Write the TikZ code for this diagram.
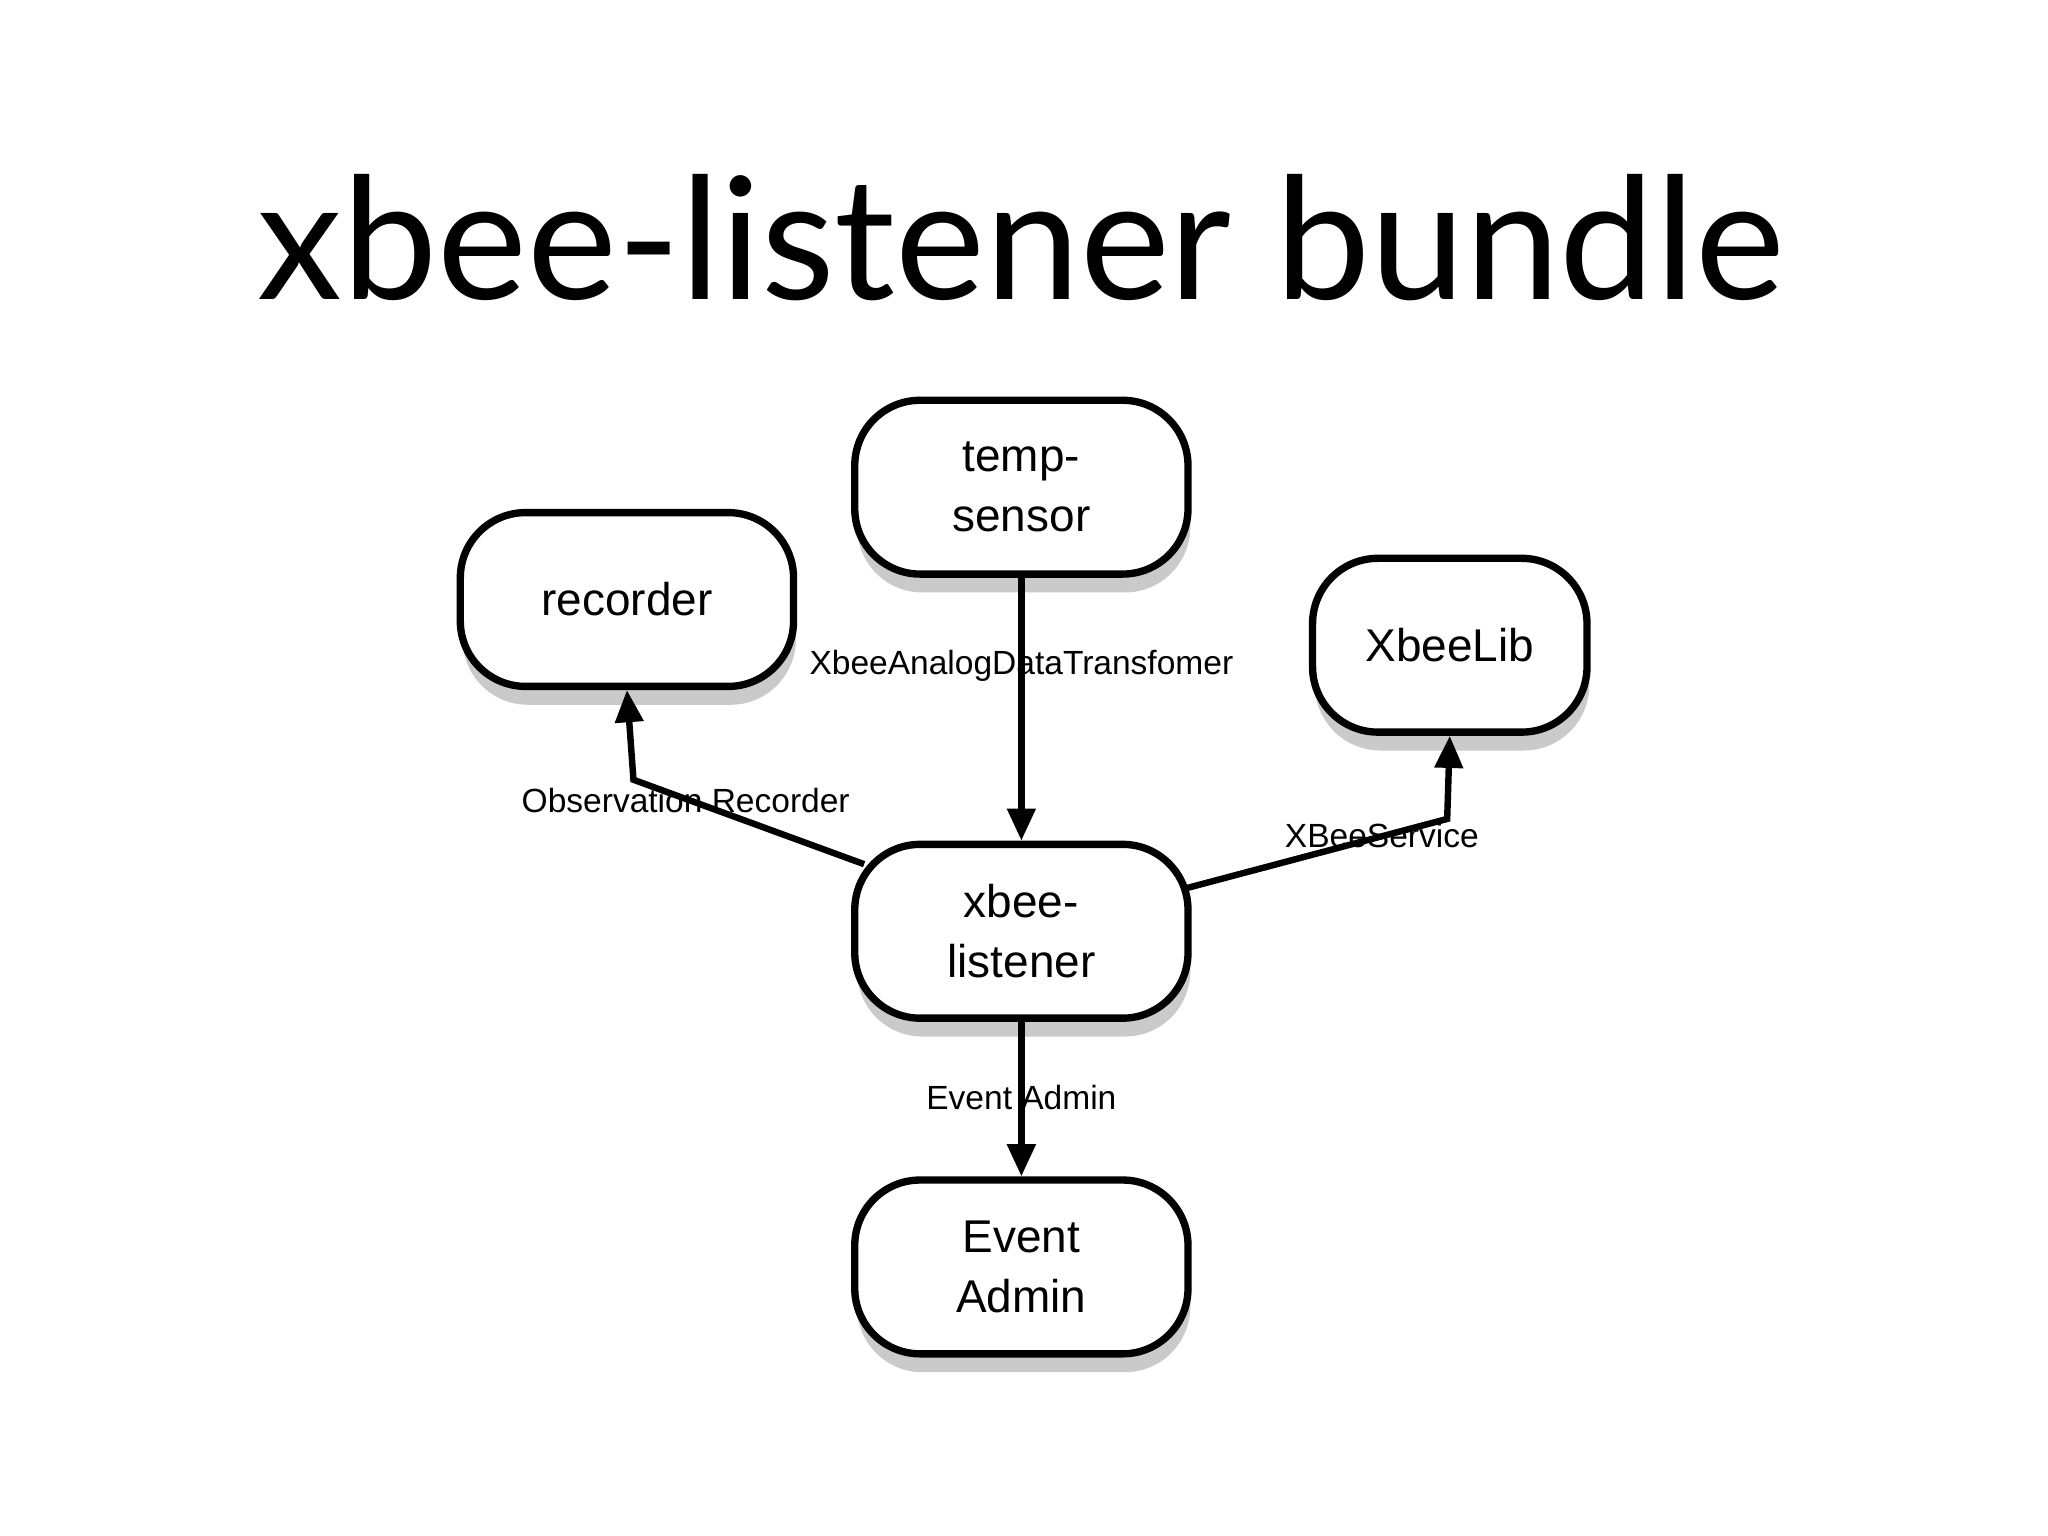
\documentclass[tikz,border=0pt]{standalone}
\usepackage{fontspec}
\setmainfont{Liberation Sans}
\newfontfamily\titlefont{Lato}
\usetikzlibrary{shadows,arrows.meta}

\begin{document}
\begin{tikzpicture}[x=0.01cm,y=-0.01cm,
    box/.style={draw, line width=1.6pt, rounded corners=0.5cm, fill=white,
        minimum width=2.55cm, minimum height=1.33cm, align=center,
        font=\fontsize{10pt}{13pt}\selectfont,
        drop shadow={shadow xshift=0.5pt, shadow yshift=-4pt, fill=black!35, opacity=0.6}},
    link/.style={line width=1.4pt, -{Triangle[length=7pt,width=6pt]}},
    lbl/.style={font=\fontsize{7.3pt}{9pt}\selectfont, inner sep=0pt}]
    \useasboundingbox (0,0) rectangle (1568,1176);

    % Title
    \node (title) at (782,182) {\titlefont\fontsize{37pt}{40pt}\selectfont xbee-listener bundle};

    % Bundles
    \node[box] (temp) at (782,373) {temp-\\sensor};
    \node[box] (rec) at (480,459) {recorder};
    \node[box, minimum width=2.1cm] (lib) at (1110,494) {XbeeLib};
    \node[box] (xl) at (782,713) {xbee-\\listener};
    \node[box] (ea) at (782,970) {Event\\Admin};

    % Services
    \coordinate (c1) at (485,597);
    \coordinate (c2) at (1108,627);
    \draw[link] (temp) -- (xl);
    \draw[link] (xl.north west) ++(10,18) -- (c1) -- (rec.south);
    \draw[link] (xl.east) ++(-4,-33) -- (c2) -- (lib.south);
    \draw[link] (xl) -- (ea);

    % Labels
    \node[lbl] (l1) at (782,510) {XbeeAnalogDataTransfomer};
    \node[lbl] (l2) at (525,613) {Observation Recorder};
    \node[lbl] (l3) at (1058,640) {XBeeService};
    \node[lbl] (l4) at (782,840) {Event Admin};
\end{tikzpicture}
\end{document}
